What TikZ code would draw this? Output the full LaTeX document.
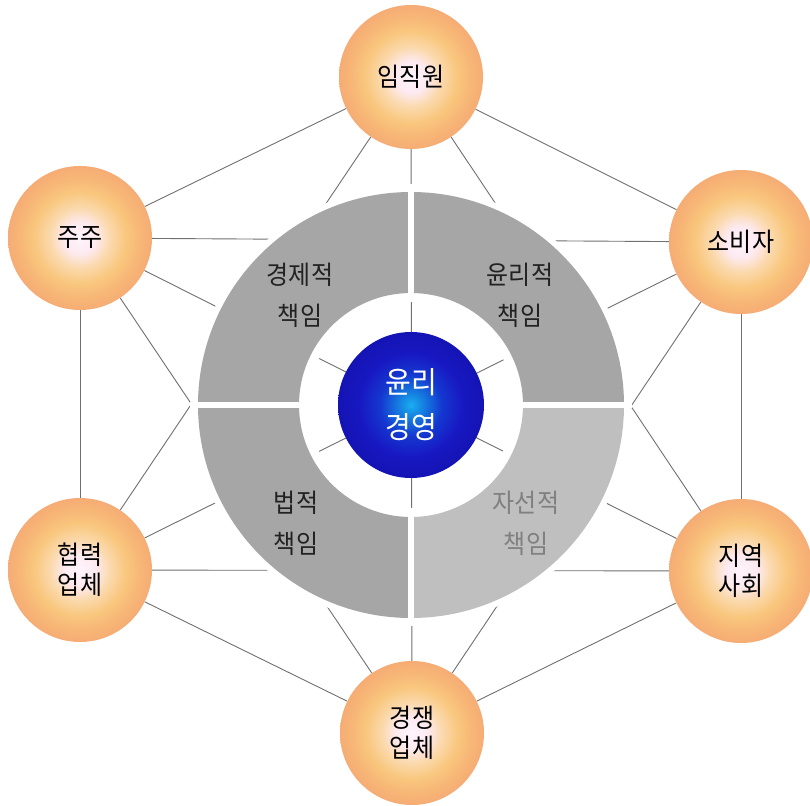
\documentclass[tikz,border=0pt]{standalone}
\usepackage{fontspec}
\setmainfont{Noto Sans CJK KR}
\usetikzlibrary{calc}
\definecolor{orbA}{HTML}{FFF4FC}
\definecolor{orbB}{HTML}{FDEAF0}
\definecolor{orbC}{HTML}{FBD9AC}
\definecolor{orbD}{HTML}{F9C77E}
\definecolor{orbE}{HTML}{F7B676}
\definecolor{orbF}{HTML}{F5A674}
\definecolor{orbG}{HTML}{F4A174}
\definecolor{orbH}{HTML}{F7B290}
\definecolor{bluA}{HTML}{1AAEF2}
\definecolor{bluB}{HTML}{1688E2}
\definecolor{bluC}{HTML}{1438D0}
\definecolor{bluD}{HTML}{1818C2}
\definecolor{bluE}{HTML}{1212B0}
\definecolor{bluF}{HTML}{0C0C94}
\definecolor{bluG}{HTML}{1A1AC6}
\definecolor{ringdark}{HTML}{A6A6A6}
\definecolor{ringlight}{HTML}{BFBFBF}
\definecolor{linegray}{HTML}{707070}
\definecolor{txtdark}{HTML}{222222}
\definecolor{txtgray}{HTML}{808080}
\pgfdeclareradialshading{orbshade}{\pgfpoint{0bp}{0bp}}{color(0bp)=(orbA); color(5.5bp)=(orbB); color(10.5bp)=(orbC); color(16bp)=(orbD); color(21bp)=(orbE); color(27.5bp)=(orbF); color(33.2bp)=(orbG); color(35.4bp)=(orbH); color(50bp)=(orbH)}
\pgfdeclareradialshading{blueshade}{\pgfpoint{0bp}{0bp}}{color(0bp)=(bluA); color(3.5bp)=(bluB); color(10.6bp)=(bluC); color(17.7bp)=(bluD); color(27.6bp)=(bluE); color(31.8bp)=(bluF); color(35.4bp)=(bluG); color(50bp)=(bluG)}
\pgfdeclarelayer{paper}
\pgfdeclarelayer{lines}
\pgfdeclarelayer{ring}
\pgfsetlayers{paper,lines,ring,main}
\newcommand{\tallt}[1]{\scalebox{1}[1.08]{#1}}
\tikzset{
  orbnode/.style={circle, minimum size=144pt, inner sep=0pt, shading=orbshade, align=center, text=black, font=\fontsize{24}{30}\selectfont},
  conn/.style={draw=linegray, line width=0.9pt},
  ringlabel/.style={align=center, text=txtdark, font=\fontsize{24}{41}\selectfont},
  gapline/.style={draw=white, line width=6.5pt},
}
\begin{document}
\begin{tikzpicture}[x=1pt,y=-1pt]
\useasboundingbox (0,0) rectangle (810,805);
\begin{pgfonlayer}{paper}
\fill[white] (0,0) rectangle (810,805);
\end{pgfonlayer}
\coordinate (C) at (411,405);
% outer stakeholders
\node[orbnode] (emp)  at (411,77)  {\tallt{임직원}};
\node[orbnode] (shr)  at (80,238)  {\tallt{주주}};
\node[orbnode] (cons) at (741,242) {\tallt{소비자}};
\node[orbnode] (part) at (80,570)  {\tallt{협력}\\\tallt{업체}};
\node[orbnode] (comm) at (741,571) {\tallt{지역}\\\tallt{사회}};
\node[orbnode] (comp) at (412,733) {\tallt{경쟁}\\\tallt{업체}};
% connectors
\begin{pgfonlayer}{lines}
\foreach \a/\b in {emp/cons, emp/shr, emp/comp, emp/part, emp/comm,
                   shr/cons, shr/part, shr/comp, shr/comm,
                   cons/comm, cons/part, cons/comp,
                   part/comm, part/comp, comm/comp}
  \draw[conn] (\a) -- (\b);
\end{pgfonlayer}
% ring
\begin{pgfonlayer}{ring}
\begin{scope}[shift={(C)}]
  \fill[white, even odd rule] (0,0) circle (219pt) (0,0) circle (103pt);
  \fill[ringdark] (90:213pt) arc[start angle=90, end angle=180, radius=213pt]
        -- (180:112pt) arc[start angle=180, end angle=90, radius=112pt] -- cycle;
  \fill[ringdark] (0:213pt) arc[start angle=0, end angle=90, radius=213pt]
        -- (90:112pt) arc[start angle=90, end angle=0, radius=112pt] -- cycle;
  \fill[ringdark] (180:213pt) arc[start angle=180, end angle=270, radius=213pt]
        -- (270:112pt) arc[start angle=270, end angle=180, radius=112pt] -- cycle;
  \fill[ringlight] (270:213pt) arc[start angle=270, end angle=360, radius=213pt]
        -- (0:112pt) arc[start angle=0, end angle=-90, radius=112pt] -- cycle;
  \foreach \ang in {0,90,180,270}
    \draw[gapline] (\ang:105pt) -- (\ang:221pt);
\end{scope}
\node[ringlabel] (econ) at (300,295) {\tallt{경제적}\\\tallt{책임}};
\node[ringlabel] (ethic) at (520,295) {\tallt{윤리적}\\\tallt{책임}};
\node[ringlabel] (legal) at (296,523) {\tallt{법적}\\\tallt{책임}};
\node[ringlabel, text=txtgray] (phil) at (526,523) {\tallt{자선적}\\\tallt{책임}};
\node[circle, minimum size=146pt, inner sep=0pt, shading=blueshade, align=center, text=white, font=\fontsize{28}{45}\selectfont] (core) at (C) {\tallt{윤리}\\\tallt{경영}};
\end{pgfonlayer}
\end{tikzpicture}
\end{document}
